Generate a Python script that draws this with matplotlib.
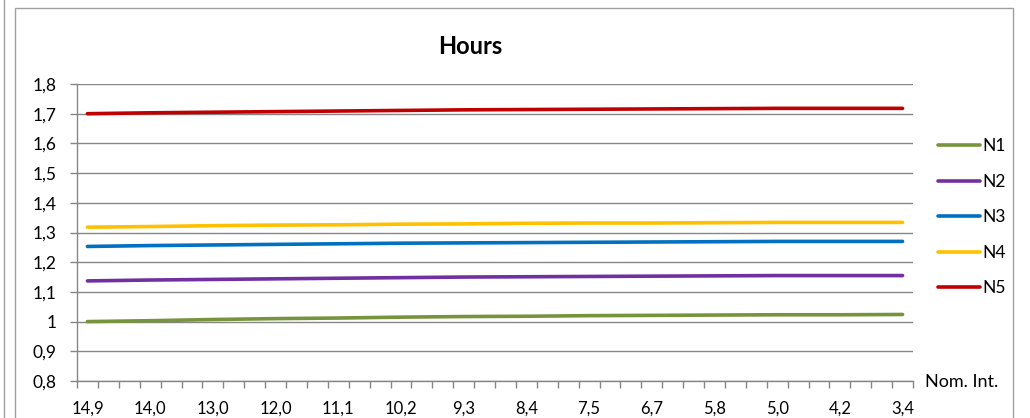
import matplotlib
matplotlib.use("Agg")
import matplotlib.pyplot as plt
from matplotlib.lines import Line2D
from matplotlib.patches import Rectangle
import numpy as np

plt.rcParams['font.family'] = ['Lato', 'DejaVu Sans']

# 40 categories on the axis, labels every 3rd category
n_categories = 40
tick_labels = ["14,9", "14,0", "13,0", "12,0", "11,1", "10,2", "9,3", "8,4",
               "7,5", "6,7", "5,8", "5,0", "4,2", "3,4"]
label_step = 3

series_names = ["N1", "N2", "N3", "N4", "N5"]
N1 = [1.000, 1.003, 1.007, 1.010, 1.012, 1.015, 1.017, 1.018, 1.020, 1.021, 1.022, 1.023, 1.023, 1.024]
N2 = [1.137, 1.140, 1.142, 1.144, 1.146, 1.148, 1.150, 1.151, 1.152, 1.153, 1.154, 1.155, 1.155, 1.155]
N3 = [1.253, 1.256, 1.258, 1.260, 1.262, 1.264, 1.265, 1.266, 1.267, 1.268, 1.269, 1.270, 1.270, 1.270]
N4 = [1.318, 1.320, 1.323, 1.325, 1.326, 1.328, 1.329, 1.331, 1.332, 1.332, 1.333, 1.334, 1.334, 1.334]
N5 = [1.700, 1.703, 1.705, 1.707, 1.709, 1.711, 1.713, 1.714, 1.715, 1.716, 1.717, 1.718, 1.718, 1.718]
colors = ["#77933C", "#7030A0", "#0070C0", "#FFC000", "#C00000"]

y_ticks = [0.8, 0.9, 1.0, 1.1, 1.2, 1.3, 1.4, 1.5, 1.6, 1.7, 1.8]
y_tick_labels = ["0,8", "0,9", "1", "1,1", "1,2", "1,3", "1,4", "1,5", "1,6", "1,7", "1,8"]

W, H = 1030, 418
fig = plt.figure(figsize=(W / 100, H / 100), dpi=100)

gray = "#868686"
# outer chart frame and neighbouring frame edge
fig.patches.append(Rectangle((15 / W, -0.05), (1013 - 15) / W, 1.05 - 8 / H,
                             transform=fig.transFigure, fill=False,
                             edgecolor="#A0A0A0", lw=1.0))
fig.add_artist(Line2D([3.5 / W, 3.5 / W], [0, 1], transform=fig.transFigure,
                      color="#A0A0A0", lw=1.0))

ax_l, ax_r, ax_t, ax_b = 77, 913, 84, 381
ax = fig.add_axes([ax_l / W, 1 - ax_b / H, (ax_r - ax_l) / W, (ax_b - ax_t) / H])

label_pos = np.arange(len(tick_labels)) * label_step
for name, vals, c in zip(series_names, [N1, N2, N3, N4, N5], colors):
    ax.plot(label_pos, vals, color=c, lw=2.6, solid_capstyle="round", label=name)

ax.set_xlim(-0.5, n_categories - 0.5)
ax.set_ylim(0.8, 1.8)
ax.set_yticks(y_ticks)
ax.set_yticklabels(y_tick_labels)
ax.set_xticks(label_pos)
ax.set_xticklabels(tick_labels)
ax.set_xticks(np.arange(n_categories + 1) - 0.5, minor=True)
ax.tick_params(axis="x", which="major", length=0, pad=14, labelsize=12, colors="black")
ax.tick_params(axis="x", which="minor", length=5, width=1, color=gray, direction="out")
ax.tick_params(axis="y", length=5, width=1, color=gray, direction="out", labelsize=12.5, pad=10)
ax.grid(axis="y", color=gray, lw=1.0)
ax.set_axisbelow(True)
for s in ["top", "right"]:
    ax.spines[s].set_visible(False)
for s in ["left", "bottom"]:
    ax.spines[s].set_color(gray)
    ax.spines[s].set_linewidth(1.0)

fig.text(470 / W, 1 - 46 / H, "Hours", ha="center", va="center",
         fontsize=17, fontweight="bold")
fig.text(925 / W, 1 - 382 / H, "Nom. Int.", ha="left", va="center", fontsize=13)

leg = ax.legend(loc="upper left", bbox_to_anchor=(938 / W, 1 - 138 / H),
                bbox_transform=fig.transFigure, frameon=False, fontsize=12.5,
                handlelength=2.4, handletextpad=0.15, labelspacing=1.13,
                borderpad=0, borderaxespad=0)

fig.savefig("out.png", dpi=100)
